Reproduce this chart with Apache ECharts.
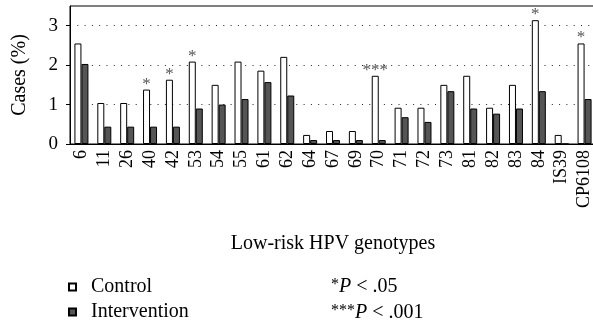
<!DOCTYPE html>
<html>
<head>
<meta charset="utf-8">
<script src="https://cdn.jsdelivr.net/npm/echarts@6/dist/echarts.min.js"></script>
<style>
html, body { margin: 0; padding: 0; background: #fff; }
#chart { width: 593px; height: 323px; }
</style>
</head>
<body>
<div id="chart"></div>
<script>
// low-risk HPV genotypes, % of cases
var genotypes = ['6', '11', '26', '40', '42', '53', '54', '55', '61', '62', '64', '67', '69', '70', '71', '72', '73', '81', '82', '83', '84', 'IS39', 'CP6108'];
var control = [2.55, 1.04, 1.04, 1.38, 1.63, 2.09, 1.50, 2.09, 1.86, 2.21, 0.23, 0.33, 0.33, 1.73, 0.92, 0.92, 1.50, 1.73, 0.92, 1.50, 3.14, 0.23, 2.55];
var intervention = [2.03, 0.44, 0.44, 0.44, 0.44, 0.90, 1.00, 1.14, 1.57, 1.23, 0.10, 0.10, 0.10, 0.10, 0.68, 0.56, 1.34, 0.90, 0.77, 0.90, 1.34, 0, 1.14];
var stars = ['', '', '', '*', '*', '*', '', '', '', '', '', '', '', '***', '', '', '', '', '', '', '*', '', '*'];
var yTicks = [0, 1, 2, 3];

var font = 'Liberation Serif';
var chart = echarts.init(document.getElementById('chart'));

// one legend per row so they stack like the original
function legendRow(name, top) {
  return {
    orient: 'vertical',
    left: 63,
    top: top,
    itemWidth: 7,
    itemHeight: 7,
    icon: 'rect',
    textStyle: { fontFamily: font, fontSize: 20, color: '#000', padding: [0, 0, 0, 10] },
    data: [name]
  };
}

chart.setOption({
  animation: false,
  textStyle: { fontFamily: font, color: '#000' },
  grid: {
    left: 70,
    top: 6,
    right: -3,
    bottom: 179,
    show: true,
    borderColor: '#000',
    borderWidth: 1,
    outerBoundsMode: 'none'
  },
  legend: [legendRow('Control', 272), legendRow('Intervention', 297)],
  xAxis: {
    type: 'category',
    data: genotypes,
    name: 'Low-risk HPV genotypes',
    nameLocation: 'middle',
    nameGap: 90,
    nameTextStyle: { fontFamily: font, fontSize: 20, color: '#000' },
    axisLine: { lineStyle: { color: '#000', width: 1 } },
    axisTick: { show: false },
    axisLabel: { rotate: 90, fontFamily: font, fontSize: 18, color: '#000', margin: 6, interval: 0 }
  },
  yAxis: {
    type: 'value',
    min: 0,
    max: 3.5,
    interval: 1,
    name: 'Cases (%)',
    nameLocation: 'middle',
    nameGap: 40,
    nameTextStyle: { fontFamily: font, fontSize: 20, color: '#000' },
    axisLine: { show: true, lineStyle: { color: '#000', width: 1 } },
    axisTick: { show: true, inside: false, length: 4, lineStyle: { color: '#000' }, customValues: yTicks },
    axisLabel: { fontFamily: font, fontSize: 19, color: '#000', margin: 12, customValues: yTicks },
    splitLine: { show: true, lineStyle: { color: '#222', width: 1, type: [1, 6.3] } }
  },
  series: [
    {
      name: 'Control',
      type: 'bar',
      data: control,
      barWidth: 7,
      barGap: '0%',
      itemStyle: { color: '#fff', borderColor: '#000', borderWidth: 1 },
      label: {
        show: true,
        position: 'top',
        distance: -3,
        fontFamily: font,
        fontSize: 17,
        color: '#555',
        formatter: function (p) { return stars[p.dataIndex]; }
      }
    },
    {
      name: 'Intervention',
      type: 'bar',
      data: intervention,
      barWidth: 7,
      itemStyle: { color: '#555', borderColor: '#000', borderWidth: 1 }
    }
  ],
  graphic: [
    {
      type: 'text',
      left: 331,
      top: 277,
      style: {
        text: '{s|*}{p|P}{n| < .05}',
        rich: {
          s: { fontFamily: font, fontSize: 16, verticalAlign: 'top', fill: '#000' },
          p: { fontFamily: font, fontSize: 20, fontStyle: 'italic', fill: '#000' },
          n: { fontFamily: font, fontSize: 20, fill: '#000' }
        }
      }
    },
    {
      type: 'text',
      left: 331,
      top: 303,
      style: {
        text: '{s|***}{p|P}{n| < .001}',
        rich: {
          s: { fontFamily: font, fontSize: 16, verticalAlign: 'top', fill: '#000' },
          p: { fontFamily: font, fontSize: 20, fontStyle: 'italic', fill: '#000' },
          n: { fontFamily: font, fontSize: 20, fill: '#000' }
        }
      }
    }
  ]
});
</script>
</body>
</html>
